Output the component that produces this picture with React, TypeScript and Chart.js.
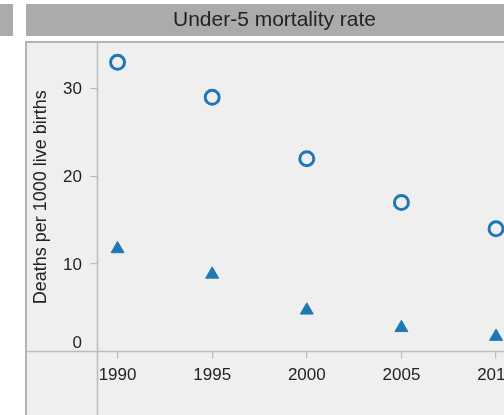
import React, { useEffect, useRef } from "react";
import { Chart, registerables } from "chart.js";

Chart.register(...registerables);

const years = [1990, 1995, 2000, 2005, 2010];
const circleValues = [33, 29, 22, 17, 14];
const triangleValues = [11.7, 8.8, 4.7, 2.7, 1.7];
const yTicks = [0, 10, 20, 30];
const panelTitle = "Under-5 mortality rate";
const yAxisTitle = "Deaths per 1000 live births";

const BLUE = "#1f77b4";
const HEADER = "#ababab";
const BORDER = "#b4b4b4";
const PANEL_BG = "#efefef";
const AXIS = "#bcbcbc";
const FONT = "'Liberation Sans', Arial, sans-serif";

const W = 549;
const H = 415;

const panelPlugin = {
  id: "panelPlugin",
  beforeDraw(chart: any) {
    const ctx = chart.ctx;
    const area = chart.chartArea;
    ctx.save();
    ctx.fillStyle = "#ffffff";
    ctx.fillRect(0, 0, W, H);
    ctx.fillStyle = HEADER;
    ctx.fillRect(0, 4, 13, 32);
    ctx.fillRect(26, 4, 497, 32);
    ctx.fillStyle = PANEL_BG;
    ctx.fillRect(26, 41, 497, H - 41);
    ctx.fillStyle = BORDER;
    ctx.fillRect(25, 41, 2, H - 41);
    ctx.fillRect(25, 41, 498, 2);
    ctx.strokeStyle = AXIS;
    ctx.lineWidth = 1.5;
    ctx.beginPath();
    ctx.moveTo(area.left, 43);
    ctx.lineTo(area.left, H);
    ctx.moveTo(27, area.bottom);
    ctx.lineTo(W, area.bottom);
    ctx.stroke();
    ctx.restore();
  },
  afterDraw(chart: any) {
    const ctx = chart.ctx;
    const y = chart.scales.y;
    ctx.save();
    ctx.fillStyle = "#222222";
    ctx.font = `17px ${FONT}`;
    ctx.textAlign = "right";
    ctx.textBaseline = "middle";
    yTicks.forEach((v) => {
      let py = y.getPixelForValue(v);
      if (v === 0) py -= 9;
      ctx.fillText(String(v), 82, py + 1);
    });
    ctx.restore();
  },
};

export default function App() {
  const ref = useRef<HTMLCanvasElement | null>(null);

  useEffect(() => {
    if (!ref.current) return;
    const chart = new Chart(ref.current, {
      type: "scatter",
      data: {
        datasets: [
          {
            label: "Under-5 mortality rate",
            data: years.map((x, i) => ({ x, y: circleValues[i] })),
            pointStyle: "circle",
            pointRadius: 7,
            pointHoverRadius: 7,
            borderWidth: 3,
            borderColor: BLUE,
            backgroundColor: "rgba(0,0,0,0)",
          },
          {
            label: "Second series",
            data: years.map((x, i) => ({ x, y: triangleValues[i] })),
            pointStyle: "triangle",
            pointRadius: 7.5,
            pointHoverRadius: 7.5,
            borderWidth: 1,
            borderColor: BLUE,
            backgroundColor: BLUE,
          },
        ],
      },
      options: {
        responsive: false,
        animation: false,
        events: [],
        layout: { padding: { left: 0, right: 0, top: 0, bottom: 0 } },
        plugins: {
          legend: { display: false },
          tooltip: { enabled: false },
          title: {
            display: true,
            text: panelTitle,
            color: "#222222",
            font: { family: FONT, size: 21, weight: "normal" },
            padding: { top: 8, bottom: 9.8 },
          },
        },
        scales: {
          x: {
            type: "linear",
            min: 1988.94,
            max: 2012.27,
            border: { display: false },
            grid: {
              drawOnChartArea: false,
              drawTicks: true,
              tickLength: 7,
              tickColor: AXIS,
              lineWidth: 1.2,
            },
            ticks: {
              stepSize: 5,
              includeBounds: false,
              color: "#222222",
              font: { family: FONT, size: 17 },
              padding: 6.5,
              maxRotation: 0,
              autoSkip: false,
              callback: (v: any) => String(v),
            },
            afterFit: (s: any) => {
              s.height = 63.5;
              s.paddingLeft = 0;
              s.paddingRight = 0;
            },
          },
          y: {
            type: "linear",
            min: 0,
            max: 35.2,
            border: { display: false },
            grid: {
              drawOnChartArea: false,
              drawTicks: true,
              tickLength: 7,
              tickColor: (c: any) => (c.tick && c.tick.value === 0 ? "rgba(0,0,0,0)" : AXIS),
              lineWidth: 1.2,
            },
            ticks: {
              display: false,
              stepSize: 10,
              includeBounds: false,
            },
            title: {
              display: true,
              text: yAxisTitle,
              color: "#222222",
              font: { family: FONT, size: 18 },
              padding: { top: 30, bottom: 0 },
            },
            afterFit: (s: any) => {
              s.width = 97.5;
              s.paddingTop = 0;
              s.paddingBottom = 0;
            },
          },
        },
      },
      plugins: [panelPlugin],
    });
    return () => chart.destroy();
  }, []);

  return (
    <div
      style={{
        position: "fixed",
        left: 0,
        top: 0,
        width: 504,
        height: 415,
        overflow: "hidden",
        background: "#fff",
      }}
    >
      <canvas ref={ref} width={W} height={H} style={{ display: "block" }} />
    </div>
  );
}
